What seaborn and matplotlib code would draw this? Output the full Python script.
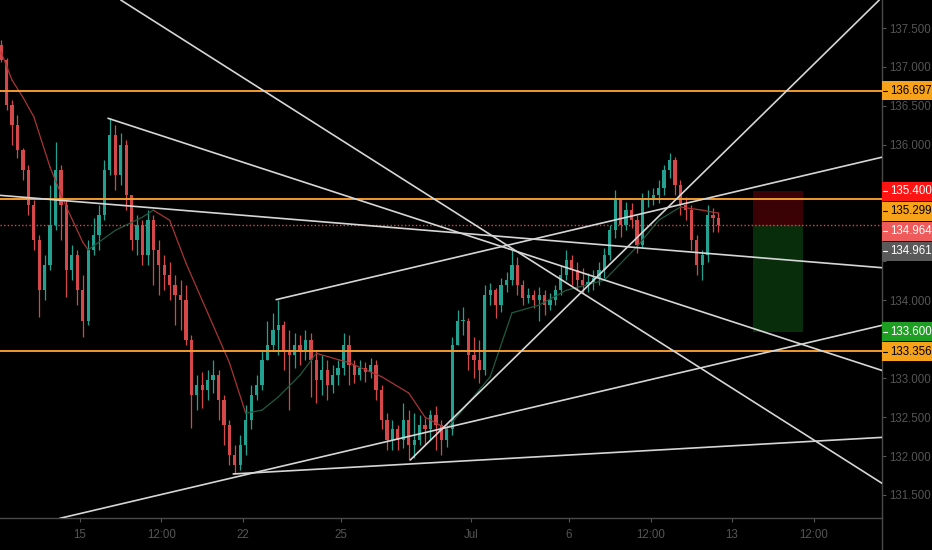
import matplotlib
matplotlib.use("Agg")
import matplotlib.pyplot as plt
import matplotlib.transforms as mtransforms
from matplotlib.patches import Rectangle
from matplotlib.lines import Line2D
import numpy as np
import pandas as pd
import seaborn as sns

# 4h candles, x = candle index (Jun 12 12:00 onwards)
first_open = 137.28
close = [
    137.09, 136.51, 136.25, 135.93, 135.68, 135.23, 134.78, 134.13, 134.45, 134.97,
    135.68, 135.23, 134.39, 134.58, 134.13, 133.74, 134.65, 134.84, 135.10, 135.68,
    136.13, 135.61, 136.00, 135.35, 134.78, 134.97, 134.58, 135.03, 134.65, 134.45,
    134.33, 134.20, 134.07, 134.01, 133.49, 132.78, 132.91, 132.85, 132.98, 133.04,
    132.72, 132.40, 132.01, 131.89, 132.14, 132.46, 132.78, 132.91, 133.23, 133.43,
    133.62, 133.68, 133.36, 133.30, 133.43, 133.36, 133.49, 133.23, 132.98, 133.11,
    132.91, 133.04, 133.13, 133.43, 133.17, 133.04, 133.13, 133.08, 133.17, 132.85,
    132.46, 132.21, 132.35, 132.21, 132.46, 132.14, 132.21, 132.40, 132.35, 132.53,
    132.40, 132.21, 132.35, 133.43, 133.74, 133.74, 133.30, 133.23, 133.11, 134.07,
    134.13, 133.94, 134.20, 134.26, 134.45, 134.20, 134.03, 134.07, 134.01, 134.07,
    133.94, 134.01, 134.13, 134.33, 134.52, 134.39, 134.26, 134.20, 134.24, 134.29,
    134.39, 134.58, 134.90, 135.29, 134.97, 135.16, 135.03, 134.71, 135.29, 135.32,
    135.35, 135.44, 135.68, 135.80, 135.48, 135.23, 135.16, 134.78, 134.45, 134.58,
    135.10, 135.06, 134.964,
]
high = [
    137.35, 137.11, 136.57, 136.38, 135.96, 135.74, 135.29, 134.84, 134.58, 135.48,
    136.04, 135.74, 135.29, 134.71, 134.65, 134.33, 134.78, 135.06, 135.23, 135.80,
    136.34, 136.25, 136.15, 136.06, 135.35, 135.10, 135.03, 135.16, 135.10, 134.78,
    134.58, 134.49, 134.33, 134.26, 134.20, 133.56, 133.04, 133.08, 133.11, 133.23,
    133.11, 132.78, 132.46, 132.14, 132.27, 132.66, 132.91, 133.04, 133.36, 133.74,
    133.84, 134.01, 133.74, 133.62, 133.58, 133.56, 133.62, 133.58, 133.36, 133.30,
    133.23, 133.17, 133.23, 133.58, 133.56, 133.23, 133.23, 133.21, 133.26, 133.23,
    132.91, 132.55, 132.46, 132.40, 132.68, 132.59, 132.55, 132.53, 132.49, 132.59,
    132.64, 132.46, 132.40, 133.53, 133.88, 133.91, 133.77, 133.53, 133.49, 134.20,
    134.22, 134.16, 134.29, 134.37, 134.65, 134.56, 134.26, 134.16, 134.13, 134.17,
    134.13, 134.09, 134.20, 134.45, 134.65, 134.58, 134.49, 134.42, 134.35, 134.39,
    134.49, 134.67, 134.97, 135.42, 135.32, 135.26, 135.25, 135.10, 135.38, 135.42,
    135.44, 135.55, 135.74, 135.89, 135.84, 135.55, 135.33, 135.23, 134.84, 134.65,
    135.23, 135.19, 135.14,
]
low = [
    137.06, 136.45, 136.00, 135.83, 135.55, 135.10, 134.65, 133.79, 134.01, 134.39,
    134.90, 134.78, 134.04, 134.26, 133.94, 133.53, 133.68, 134.58, 134.65, 135.03,
    135.61, 135.42, 135.48, 135.16, 134.65, 134.58, 134.45, 134.45, 134.20, 134.07,
    134.13, 134.01, 133.68, 133.62, 133.43, 132.36, 132.59, 132.62, 132.72, 132.81,
    132.46, 132.14, 131.89, 131.77, 131.82, 132.01, 132.35, 132.72, 132.85, 133.23,
    133.36, 133.30, 133.11, 132.59, 133.13, 133.17, 133.23, 132.76, 132.68, 132.78,
    132.72, 132.81, 132.91, 133.04, 132.91, 132.94, 132.98, 132.95, 133.00, 132.72,
    132.35, 132.08, 132.08, 132.08, 132.10, 131.95, 131.97, 132.14, 132.14, 132.21,
    132.08, 132.01, 132.12, 132.27, 133.43, 133.56, 133.11, 133.00, 132.94, 133.04,
    133.94, 133.77, 133.85, 134.11, 134.20, 134.07, 133.94, 133.97, 133.90, 133.74,
    133.81, 133.88, 133.94, 134.07, 134.26, 134.20, 134.13, 134.09, 134.11, 134.13,
    134.20, 134.29, 134.52, 134.80, 134.81, 134.90, 134.93, 134.61, 134.67, 135.20,
    135.23, 135.25, 135.35, 135.57, 135.35, 135.10, 135.03, 134.65, 134.33, 134.26,
    134.49, 134.88, 134.88,
]

# moving average, read at a few candle indices
ma_idx = [0, 2, 4, 6, 9, 12, 15, 16, 21, 26, 28, 31, 34, 38, 42, 45, 48, 51, 55, 58,
          64, 67, 70, 75, 78, 82, 90, 94, 99, 104, 111, 117, 121, 125, 129, 132]
ma_val = [137.19, 136.83, 136.61, 136.36, 135.71, 135.20, 134.75, 134.65, 134.90, 135.07,
          135.16, 135.03, 134.48, 133.84, 133.20, 132.55, 132.59, 132.76, 133.04, 133.32,
          133.20, 133.11, 133.02, 132.81, 132.50, 132.35, 133.02, 133.84, 133.94, 134.13,
          134.26, 134.69, 135.03, 135.20, 135.16, 135.12]

# drawn trend lines: start/end anchor (candle index, price)
tl_x0 = [22.0, 19.66, -0.22, 50.6, 75.3, 10.8, 42.7]
tl_p0 = [137.86, 136.34, 135.35, 134.01, 131.95, 131.20, 131.77]
tl_x1 = [162.1, 162.1, 162.1, 162.1, 161.6, 162.1, 162.1]
tl_p1 = [131.65, 133.10, 134.42, 135.84, 137.86, 133.68, 132.24]

levels = [136.697, 135.299, 133.356]
last_price = 134.964
stop_price = 135.400
target_price = 133.600
position_x = [138.4, 147.6]

tag_prices = [136.697, 135.400, 135.299, 134.964, 134.961, 133.600, 133.356]
tag_kinds = ["level", "stop", "level", "last", "bid", "target", "level"]

ytick_vals = [131.5, 132.0, 132.5, 133.0, 133.5, 134.0, 134.5, 135.0, 135.5,
              136.0, 136.5, 137.0, 137.5]
xtick_pos = [14.5, 29.5, 44.5, 62.5, 86.5, 104.5, 119.5, 134.5, 149.5]
xtick_labels = ["15", "12:00", "22", "25", "Jul", "6", "12:00", "13", "12:00"]


def main():
    sns.set_theme(style="dark", rc={"axes.facecolor": "black", "figure.facecolor": "black"})
    plt.rcParams["font.family"] = ["Liberation Sans", "DejaVu Sans"]

    fig = plt.figure(figsize=(9.32, 5.5), dpi=100, facecolor="black")
    ax = fig.add_axes([0, 32 / 550, 882 / 932, 518 / 550])
    ax.set_facecolor("black")
    ymin, ymax = 131.204, 137.86
    ax.set_xlim(-0.22, 162.1)
    ax.set_ylim(ymin, ymax)

    # position tool
    ax.add_patch(Rectangle((position_x[0], last_price), position_x[1] - position_x[0],
                           stop_price - last_price, fc="#3a0204", ec="none", zorder=1))
    ax.add_patch(Rectangle((position_x[0], target_price), position_x[1] - position_x[0],
                           last_price - target_price, fc="#072d0b", ec="none", zorder=1))

    # candles
    idx = np.arange(len(close))
    closes = np.array(close)
    opens = np.array([first_open] + close[:-1])
    highs = np.maximum(np.array(high), np.maximum(opens, closes))
    lows = np.minimum(np.array(low), np.minimum(opens, closes))
    colors = np.where(closes >= opens, "#23a08f", "#d4484a")
    ax.vlines(idx, lows, highs, colors=colors, linewidth=0.9, zorder=2)
    body_lo = np.minimum(opens, closes)
    body_h = np.maximum(np.abs(closes - opens), 0.012)
    ax.bar(idx, body_h, bottom=body_lo, width=0.6, color=colors, linewidth=0, zorder=2)

    # moving average, coloured by slope
    rows = []
    for k in range(len(ma_idx) - 1):
        d = "up" if ma_val[k + 1] >= ma_val[k] else "down"
        rows.append(dict(seg=k, x=ma_idx[k], y=ma_val[k], dir=d))
        rows.append(dict(seg=k, x=ma_idx[k + 1], y=ma_val[k + 1], dir=d))
    ma_df = pd.DataFrame(rows)
    sns.lineplot(data=ma_df, x="x", y="y", units="seg", hue="dir", estimator=None,
                 palette={"up": "#1f5a40", "down": "#a83434"}, legend=False, sort=False,
                 linewidth=0.9, ax=ax, zorder=3)

    # levels
    for p in levels:
        ax.axhline(p, color="#f29a2e", lw=1.4, zorder=4)
    ax.axhline(last_price, color="#e2463f", lw=1.0, ls=(0, (1, 1.6)), zorder=4)

    # trend lines
    tl_rows = []
    for k in range(len(tl_x0)):
        tl_rows.append(dict(line=k, x=tl_x0[k], y=tl_p0[k]))
        tl_rows.append(dict(line=k, x=tl_x1[k], y=tl_p1[k]))
    tl_df = pd.DataFrame(tl_rows)
    sns.lineplot(data=tl_df, x="x", y="y", units="line", estimator=None, sort=False,
                 color="#d6d6d6", linewidth=1.2, ax=ax, zorder=5)

    # price tags on the right scale (stacked so they don't collide)
    styles = {
        "level": ("#f7a21b", "black"),
        "stop": ("#ff1414", "white"),
        "last": ("#ef5a5a", "white"),
        "bid": ("#5a5a5a", "white"),
        "target": ("#1f9e24", "white"),
    }
    px_per_price = 518 / (ymax - ymin)
    step = 20 / px_per_price
    box_h = 18.5 / px_per_price
    trans = mtransforms.blended_transform_factory(ax.transAxes, ax.transData)
    order = np.argsort(tag_prices)[::-1]
    prev = None
    boxes = []
    for j in order:
        p = tag_prices[j]
        yc = p if prev is None else min(p, prev - step)
        prev = yc
        boxes.append((yc - box_h / 2, yc + box_h / 2))
        fc, tc = styles[tag_kinds[j]]
        ax.add_patch(Rectangle((1.0, yc - box_h / 2), 50 / 882, box_h, transform=trans,
                               fc=fc, ec="none", clip_on=False, zorder=10))
        ax.plot([1.0 + 1 / 882, 1.0 + 5 / 882], [yc, yc], transform=trans, color=tc,
                lw=0.8, clip_on=False, zorder=11)
        ax.text(1.0 + 8 / 882, yc, f"{p:.3f}", transform=trans, ha="left", va="center",
                fontsize=8.3, color=tc, clip_on=False, zorder=11)

    # scale labels that sit under a tag are hidden, as on the chart
    ylabels = []
    for v in ytick_vals:
        covered = any(lo - 0.02 < v < hi + 0.02 for lo, hi in boxes)
        ylabels.append("" if covered else f"{v:.3f}")

    ax.set_xlabel("")
    ax.set_ylabel("")
    ax.grid(False)
    for s in ["top", "left"]:
        ax.spines[s].set_visible(False)
    for s in ["right", "bottom"]:
        ax.spines[s].set_color("#4a4a4a")
        ax.spines[s].set_linewidth(1.0)
    ax.yaxis.tick_right()
    ax.set_yticks(ytick_vals)
    ax.set_yticklabels(ylabels)
    ax.tick_params(axis="y", colors="#555555", labelsize=8.3, length=3, width=0.8,
                   pad=2.5, right=True, left=False)
    ax.set_xticks(xtick_pos)
    ax.set_xticklabels(xtick_labels)
    ax.tick_params(axis="x", colors="#555555", labelsize=8.3, length=3, width=0.8,
                   pad=5, bottom=True)

    fig.add_artist(Line2D([882 / 932, 882 / 932], [0, 32 / 550], color="#4a4a4a", lw=1.0))

    fig.savefig("out.png", dpi=100, facecolor="black")


if __name__ == "__main__":
    main()
